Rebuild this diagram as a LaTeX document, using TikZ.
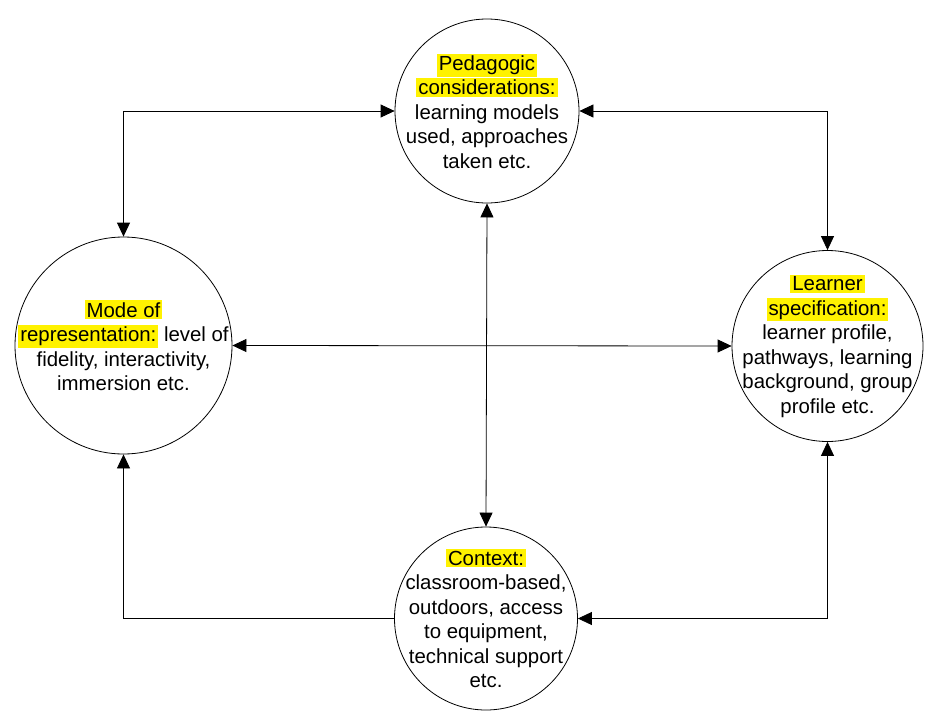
\documentclass[tikz,border=0pt]{standalone}
\usepackage{fontspec}
\setmainfont{Liberation Sans}
\usetikzlibrary{arrows.meta}
\newcommand{\hlt}[1]{{\setlength{\fboxsep}{2pt}\colorbox{yellow}{#1}}}

\begin{document}
\begin{tikzpicture}[
  bubble/.style={circle, draw=black, line width=0.8pt, fill=white, inner sep=0pt},
  btext/.style={align=center, inner sep=0pt, font=\fontsize{20.4}{24.5}\selectfont},
  link/.style={line width=0.8pt, color=black},
  >={Triangle[length=14pt, width=13pt]}]
\useasboundingbox (0pt, 0pt) rectangle (948pt, -720pt);
\node (pd) [bubble, minimum size=184pt] at (487.0pt, -111.0pt) {};
\node (md) [bubble, minimum size=217pt] at (123.5pt, -345.5pt) {};
\node (ln) [bubble, minimum size=191pt] at (827.5pt, -346.0pt) {};
\node (cx) [bubble, minimum size=183pt] at (486.0pt, -618.5pt) {};
\node (pd-t) [btext] at (pd.center) {\hlt{Pedagogic}\\\hlt{considerations:}\\learning models\\used, approaches\\taken etc.};
\node (md-t) [btext] at (md.center) {\hlt{Mode of}\\\hlt{representation:} level of\\fidelity, interactivity,\\immersion etc.};
\node (ln-t) [btext] at (ln.center) {\hlt{Learner}\\\hlt{specification:}\\learner profile,\\pathways, learning\\background, group\\profile etc.};
\node (cx-t) [btext] at (cx.center) {\hlt{Context:}\\classroom-based,\\outdoors, access\\to equipment,\\technical support\\etc.};
\draw [link, <->] (md.north) |- (pd.west);
\draw [link, <->] (pd.east) -| (ln.north);
\draw [link, <->] (pd.south) -- (cx.north);
\draw [link, <->] (md.east) -- (ln.west);
\draw [link, ->] (cx.west) -| (md.south);
\draw [link, <->] (ln.south) |- (cx.east);
\end{tikzpicture}
\end{document}
